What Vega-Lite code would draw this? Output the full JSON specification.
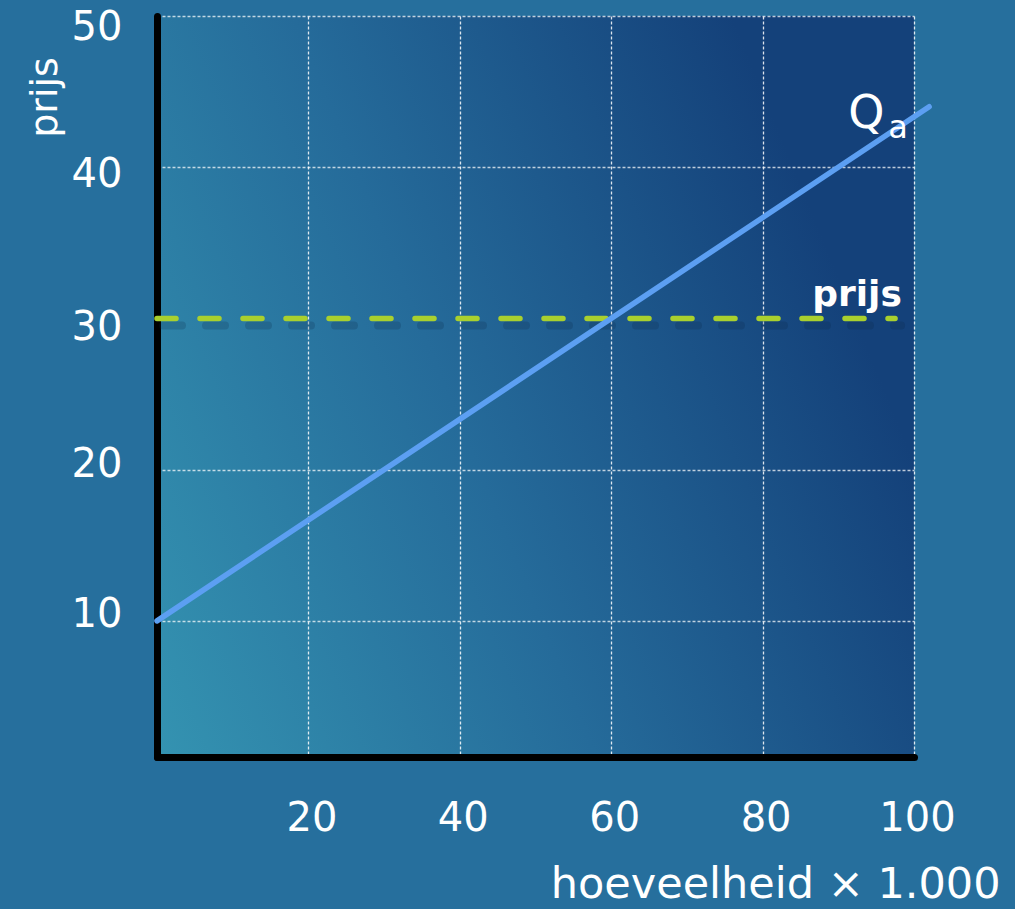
{
  "$schema": "https://vega.github.io/schema/vega-lite/v6.json",
  "width": 757,
  "height": 741,
  "autosize": {"type": "none"},
  "padding": {"left": 157, "top": 16, "right": 101, "bottom": 152},
  "background": "#266f9d",
  "config": {
    "view": {
      "stroke": null,
      "fill": {
        "gradient": "linear",
        "x1": 0, "y1": 1, "x2": 1, "y2": 0.6,
        "stops": [
          {"offset": 0, "color": "#3493b1"},
          {"offset": 0.5, "color": "#256b9a"},
          {"offset": 1, "color": "#14417a"}
        ]
      }
    },
    "font": "DejaVu Sans",
    "axis": {
      "domainColor": "#000000",
      "domainWidth": 7,
      "domainCap": "round",
      "ticks": false,
      "tickSize": 0,
      "gridColor": "#ffffff",
      "gridOpacity": 0.85,
      "gridWidth": 1.3,
      "gridDash": [3, 2],
      "labelColor": "#ffffff",
      "labelFont": "DejaVu Sans",
      "labelFontSize": 40,
      "labelFontWeight": "normal",
      "labelOverlap": false,
      "labelFlush": false,
      "labelBound": false,
      "titleColor": "#ffffff",
      "titleFont": "DejaVu Sans",
      "titleFontWeight": "normal"
    }
  },
  "datasets": {
    "aanbod": [{"q": 0, "p": 10}, {"q": 102, "p": 44}],
    "prijslijn": [{"q": 0, "p": 30}, {"q": 97.5, "p": 30}]
  },
  "layer": [
    {
      "data": {"name": "prijslijn"},
      "mark": {"type": "line", "color": "#0a2440", "opacity": 0.2, "strokeWidth": 8, "strokeDash": [19, 24], "strokeCap": "round", "xOffset": 6, "yOffset": 7},
      "encoding": {
        "x": {"field": "q", "type": "quantitative"},
        "y": {"field": "p", "type": "quantitative"}
      }
    },
    {
      "data": {"name": "prijslijn"},
      "mark": {"type": "line", "color": "#a9d02e", "strokeWidth": 5.5, "strokeDash": [19, 24], "strokeCap": "round"},
      "encoding": {
        "x": {"field": "q", "type": "quantitative"},
        "y": {"field": "p", "type": "quantitative"}
      }
    },
    {
      "data": {"name": "aanbod"},
      "mark": {"type": "line", "color": "#5c9ff2", "strokeWidth": 5.5, "strokeCap": "round"},
      "encoding": {
        "x": {
          "field": "q", "type": "quantitative",
          "scale": {"domain": [0, 100], "nice": false, "zero": false},
          "axis": {
            "values": [20, 40, 60, 80, 100],
            "labelBaseline": "alphabetic",
            "labelPadding": 73,
            "labelOffset": 3,
            "title": "hoeveelheid × 1.000",
            "titleFontSize": 43,
            "titleAlign": "right",
            "titleBaseline": "alphabetic",
            "titleAnchor": null,
            "titleX": 843,
            "titleY": 140
          }
        },
        "y": {
          "field": "p", "type": "quantitative",
          "scale": {"domain": [1, 50], "nice": false, "zero": false},
          "axis": {
            "values": [10, 20, 30, 40, 50],
            "labelAlign": "right",
            "labelBaseline": "middle",
            "labelPadding": 35,
            "labelOffset": {"expr": "datum.value == 50 ? 11 : datum.value == 40 ? 7 : datum.value == 30 ? 9 : datum.value == 20 ? -5 : -6"},
            "gridOpacity": {"expr": "datum.value == 30 ? 0 : 0.85"},
            "title": "prijs",
            "titleFontSize": 38,
            "titleAngle": -90,
            "titleAlign": "center",
            "titleBaseline": "middle",
            "titleAnchor": null,
            "titleX": -112,
            "titleY": 81
          }
        }
      }
    },
    {
      "data": {"values": [{"tekst": "prijs", "q": 98.4, "p": 30}]},
      "mark": {"type": "text", "color": "#ffffff", "font": "DejaVu Sans", "fontSize": 36, "fontWeight": "bold", "align": "right", "baseline": "alphabetic", "dy": -12},
      "encoding": {
        "x": {"field": "q", "type": "quantitative"},
        "y": {"field": "p", "type": "quantitative"},
        "text": {"field": "tekst"}
      }
    },
    {
      "data": {"values": [{"tekst": "Q", "q": 91.3, "p": 42.6}]},
      "mark": {"type": "text", "color": "#ffffff", "font": "DejaVu Sans", "fontSize": 46, "align": "left", "baseline": "alphabetic"},
      "encoding": {
        "x": {"field": "q", "type": "quantitative"},
        "y": {"field": "p", "type": "quantitative"},
        "text": {"field": "tekst"}
      }
    },
    {
      "data": {"values": [{"tekst": "a", "q": 96.6, "p": 41.9}]},
      "mark": {"type": "text", "color": "#ffffff", "font": "DejaVu Sans", "fontSize": 32, "align": "left", "baseline": "alphabetic"},
      "encoding": {
        "x": {"field": "q", "type": "quantitative"},
        "y": {"field": "p", "type": "quantitative"},
        "text": {"field": "tekst"}
      }
    }
  ]
}
